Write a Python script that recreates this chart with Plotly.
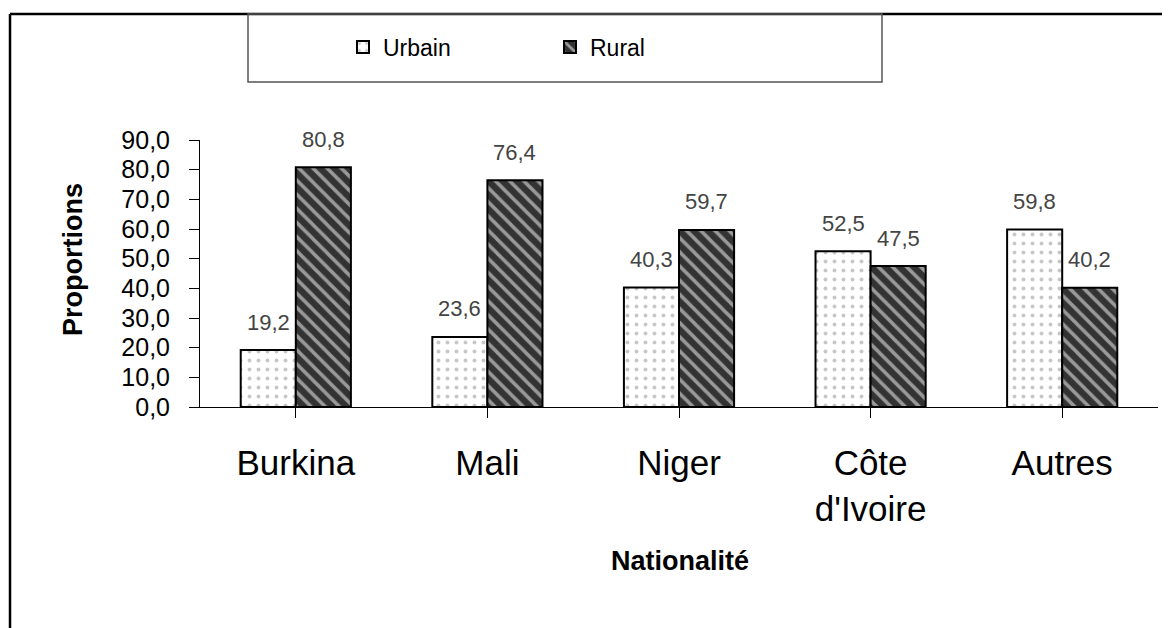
import plotly.graph_objects as go

categories = ["Burkina", "Mali", "Niger", "Côte<br>d'Ivoire", "Autres"]
urbain = [19.2, 23.6, 40.3, 52.5, 59.8]
rural = [80.8, 76.4, 59.7, 47.5, 40.2]
series_names = ["Urbain", "Rural"]
y_ticks = [0, 10, 20, 30, 40, 50, 60, 70, 80, 90]

W, H = 1170, 628
OFF = 8  # page body margin
# plot area in screenshot pixels: x 200..1158, y 140..407
L = 200 - OFF
T = 140 - OFF
R = W - (1158 - OFF)
B = H - (407 - OFF)
PW, PH = W - L - R, H - T - B
BARGAP = 0.425


def px(x):
    return (x - OFF - L) / PW


def py(y):
    return (H - B - (y - OFF)) / PH


xs = list(range(len(categories)))
FONT = "Liberation Sans, Arial"

fig = go.Figure()
fig.add_trace(go.Bar(
    name=series_names[0], x=xs, y=urbain,
    marker=dict(color="white", line=dict(color="black", width=2),
                pattern=dict(shape=".", fgcolor="#8f8f8f", bgcolor="white",
                             size=9, solidity=0.15)),
))
fig.add_trace(go.Bar(
    name=series_names[1], x=xs, y=rural,
    marker=dict(color="#333333", line=dict(color="black", width=2),
                pattern=dict(shape="\\", fgcolor="white", bgcolor="#333333",
                             size=10, solidity=0.35)),
))

off = (1 - BARGAP) / 4
annotations = []
for i, v in enumerate(urbain):
    annotations.append(dict(x=i - off, y=v, xref="x", yref="y",
                            text=f"{v:.1f}".replace(".", ","), showarrow=False,
                            yshift=28, yanchor="middle",
                            font=dict(family=FONT, size=22, color="#444")))
for i, v in enumerate(rural):
    annotations.append(dict(x=i + off, y=v, xref="x", yref="y",
                            text=f"{v:.1f}".replace(".", ","), showarrow=False,
                            yshift=28, yanchor="middle",
                            font=dict(family=FONT, size=22, color="#444")))

annotations.append(dict(x=px(73), y=py(260), xref="paper", yref="paper",
                        text="<b>Proportions</b>", textangle=-90, showarrow=False,
                        xanchor="center", yanchor="middle",
                        font=dict(family=FONT, size=27, color="black")))
annotations.append(dict(x=px(680), y=py(561), xref="paper", yref="paper",
                        text="<b>Nationalité</b>", showarrow=False,
                        xanchor="center", yanchor="middle",
                        font=dict(family=FONT, size=27, color="black")))

shapes = [
    dict(type="line", xref="paper", yref="paper", x0=px(10), x1=px(1190),
         y0=py(14), y1=py(14), line=dict(color="black", width=2.5)),
    dict(type="line", xref="paper", yref="paper", x0=px(10), x1=px(10),
         y0=py(14), y1=py(650), line=dict(color="black", width=2.5)),
    dict(type="rect", xref="paper", yref="paper", x0=px(248), x1=px(882),
         y0=py(82), y1=py(14), line=dict(color="#555", width=1.5),
         fillcolor="rgba(0,0,0,0)"),
]

fig.update_layout(
    width=W, height=H,
    margin=dict(l=L, r=R, t=T, b=B),
    paper_bgcolor="white", plot_bgcolor="white",
    barmode="group", bargap=BARGAP, bargroupgap=0,
    separators=", ",
    font=dict(family=FONT, color="black"),
    showlegend=True,
    legend=dict(orientation="h", x=px(343), y=py(47), xanchor="left", yanchor="middle",
                bgcolor="rgba(0,0,0,0)", borderwidth=0,
                font=dict(family=FONT, size=23, color="black"),
                entrywidth=162, entrywidthmode="pixels", itemsizing="constant"),
    annotations=annotations,
    shapes=shapes,
    xaxis=dict(tickmode="array", tickvals=xs, ticktext=categories,
               range=[-0.5, len(categories) - 0.5],
               showline=True, linecolor="black", linewidth=1,
               ticks="outside", tickson="boundaries", ticklen=10, tickcolor="black",
               tickfont=dict(family=FONT, size=35, color="black"),
               ticklabelstandoff=15, showgrid=False, zeroline=False),
    yaxis=dict(range=[0, 90], tickvals=y_ticks, tickformat=".1f",
               showline=True, linecolor="black", linewidth=1,
               ticks="outside", ticklen=10, tickcolor="black",
               tickfont=dict(family=FONT, size=25, color="black"),
               ticklabelstandoff=14, showgrid=False, zeroline=False),
)

fig.write_html("out.html")
